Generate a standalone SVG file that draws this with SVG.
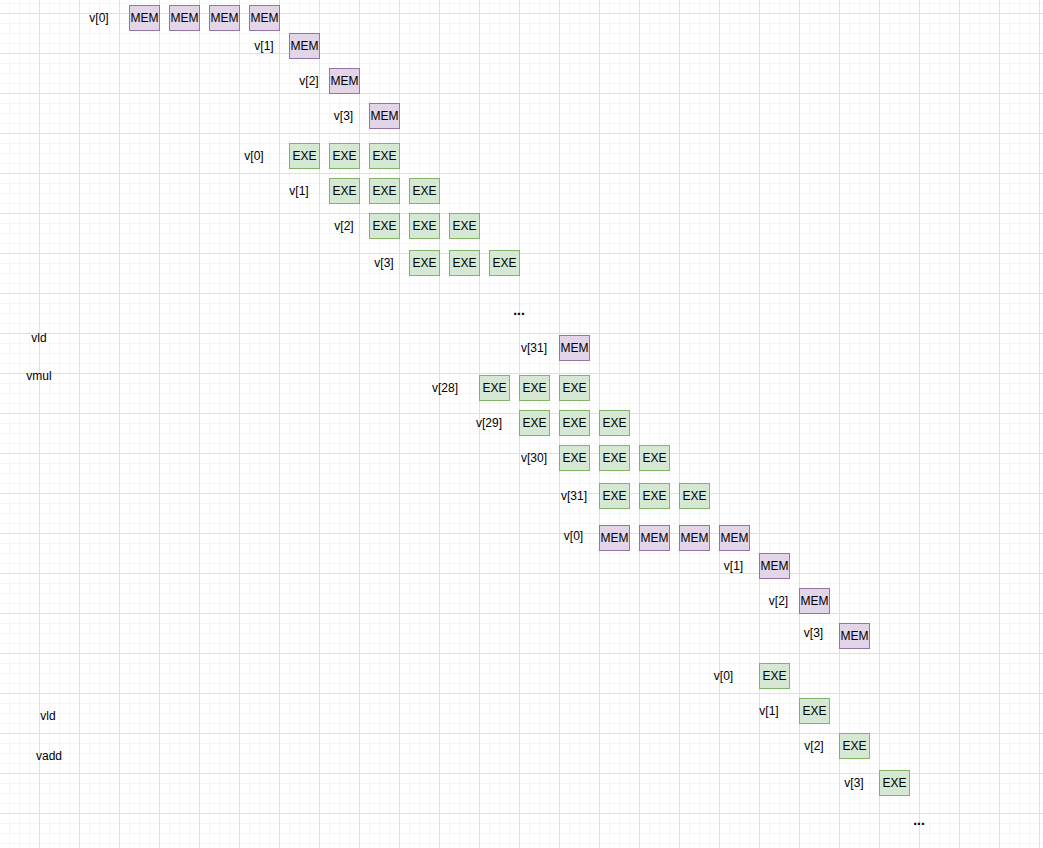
<svg xmlns="http://www.w3.org/2000/svg" width="1043" height="848" viewBox="0 0 1043 848">
<defs>
<pattern id="minor" patternUnits="userSpaceOnUse" x="9" y="3" width="10" height="10">
<rect x="0" y="0" width="1" height="10" fill="#f5f5f5"/>
<rect x="0" y="0" width="10" height="1" fill="#f5f5f5"/>
</pattern>
<pattern id="major" patternUnits="userSpaceOnUse" x="39" y="13" width="40" height="40">
<rect x="0" y="0" width="1" height="40" fill="#e0e0e0"/>
<rect x="0" y="0" width="40" height="1" fill="#e0e0e0"/>
</pattern>
<style>
.mem rect{fill:#e1d5e7;stroke:#9673a6;stroke-width:1}
.exe rect{fill:#d5e8d4;stroke:#82b366;stroke-width:1}
text{font-family:"Liberation Sans",Arial,sans-serif;font-size:12px;fill:#000}
.c{text-anchor:middle;dominant-baseline:central}
.dots{font-weight:bold;font-size:14px;text-anchor:middle}
</style>
</defs>
<rect width="1043" height="848" fill="#ffffff"/>
<rect width="1043" height="848" fill="url(#minor)"/>
<rect width="1043" height="848" fill="url(#major)"/>

<g id="labels">
<text class="c" x="39" y="338">vld</text>
<text class="c" x="39" y="376">vmul</text>
<text class="c" x="48" y="716">vld</text>
<text class="c" x="49" y="756">vadd</text>
<text class="dots" x="519" y="315">...</text>
<text class="dots" x="919" y="825">...</text>
</g>

<g id="row1"><text class="c" x="99" y="18">v[0]</text>
<g id="n1" class="mem"><rect x="129.5" y="5.5" width="30" height="25"/><text class="c" x="144.5" y="18">MEM</text></g>
<g id="n2" class="mem"><rect x="169.5" y="5.5" width="30" height="25"/><text class="c" x="184.5" y="18">MEM</text></g>
<g id="n3" class="mem"><rect x="209.5" y="5.5" width="30" height="25"/><text class="c" x="224.5" y="18">MEM</text></g>
<g id="n4" class="mem"><rect x="249.5" y="5.5" width="30" height="25"/><text class="c" x="264.5" y="18">MEM</text></g>
</g>
<g id="row2"><text class="c" x="264" y="46">v[1]</text>
<g id="n5" class="mem"><rect x="289.5" y="33.5" width="30" height="25"/><text class="c" x="304.5" y="46">MEM</text></g>
</g>
<g id="row3"><text class="c" x="309" y="81">v[2]</text>
<g id="n6" class="mem"><rect x="329.5" y="68.5" width="30" height="25"/><text class="c" x="344.5" y="81">MEM</text></g>
</g>
<g id="row4"><text class="c" x="343.5" y="116">v[3]</text>
<g id="n7" class="mem"><rect x="369.5" y="103.5" width="30" height="25"/><text class="c" x="384.5" y="116">MEM</text></g>
</g>

<g id="row5"><text class="c" x="254" y="156">v[0]</text>
<g id="n8" class="exe"><rect x="289.5" y="143.5" width="30" height="25"/><text class="c" x="304.5" y="156">EXE</text></g>
<g id="n9" class="exe"><rect x="329.5" y="143.5" width="30" height="25"/><text class="c" x="344.5" y="156">EXE</text></g>
<g id="n10" class="exe"><rect x="369.5" y="143.5" width="30" height="25"/><text class="c" x="384.5" y="156">EXE</text></g>
</g>
<g id="row6"><text class="c" x="299" y="191">v[1]</text>
<g id="n11" class="exe"><rect x="329.5" y="178.5" width="30" height="25"/><text class="c" x="344.5" y="191">EXE</text></g>
<g id="n12" class="exe"><rect x="369.5" y="178.5" width="30" height="25"/><text class="c" x="384.5" y="191">EXE</text></g>
<g id="n13" class="exe"><rect x="409.5" y="178.5" width="30" height="25"/><text class="c" x="424.5" y="191">EXE</text></g>
</g>
<g id="row7"><text class="c" x="344" y="226">v[2]</text>
<g id="n14" class="exe"><rect x="369.5" y="213.5" width="30" height="25"/><text class="c" x="384.5" y="226">EXE</text></g>
<g id="n15" class="exe"><rect x="409.5" y="213.5" width="30" height="25"/><text class="c" x="424.5" y="226">EXE</text></g>
<g id="n16" class="exe"><rect x="449.5" y="213.5" width="30" height="25"/><text class="c" x="464.5" y="226">EXE</text></g>
</g>
<g id="row8"><text class="c" x="384" y="263">v[3]</text>
<g id="n17" class="exe"><rect x="409.5" y="250.5" width="30" height="25"/><text class="c" x="424.5" y="263">EXE</text></g>
<g id="n18" class="exe"><rect x="449.5" y="250.5" width="30" height="25"/><text class="c" x="464.5" y="263">EXE</text></g>
<g id="n19" class="exe"><rect x="489.5" y="250.5" width="30" height="25"/><text class="c" x="504.5" y="263">EXE</text></g>
</g>

<g id="row9"><text class="c" x="534" y="348">v[31]</text>
<g id="n20" class="mem"><rect x="559.5" y="335.5" width="30" height="25"/><text class="c" x="574.5" y="348">MEM</text></g>
</g>
<g id="row10"><text class="c" x="445" y="388">v[28]</text>
<g id="n21" class="exe"><rect x="479.5" y="375.5" width="30" height="25"/><text class="c" x="494.5" y="388">EXE</text></g>
<g id="n22" class="exe"><rect x="519.5" y="375.5" width="30" height="25"/><text class="c" x="534.5" y="388">EXE</text></g>
<g id="n23" class="exe"><rect x="559.5" y="375.5" width="30" height="25"/><text class="c" x="574.5" y="388">EXE</text></g>
</g>
<g id="row11"><text class="c" x="489" y="423">v[29]</text>
<g id="n24" class="exe"><rect x="519.5" y="410.5" width="30" height="25"/><text class="c" x="534.5" y="423">EXE</text></g>
<g id="n25" class="exe"><rect x="559.5" y="410.5" width="30" height="25"/><text class="c" x="574.5" y="423">EXE</text></g>
<g id="n26" class="exe"><rect x="599.5" y="410.5" width="30" height="25"/><text class="c" x="614.5" y="423">EXE</text></g>
</g>
<g id="row12"><text class="c" x="534" y="458">v[30]</text>
<g id="n27" class="exe"><rect x="559.5" y="445.5" width="30" height="25"/><text class="c" x="574.5" y="458">EXE</text></g>
<g id="n28" class="exe"><rect x="599.5" y="445.5" width="30" height="25"/><text class="c" x="614.5" y="458">EXE</text></g>
<g id="n29" class="exe"><rect x="639.5" y="445.5" width="30" height="25"/><text class="c" x="654.5" y="458">EXE</text></g>
</g>
<g id="row13"><text class="c" x="574" y="496">v[31]</text>
<g id="n30" class="exe"><rect x="599.5" y="483.5" width="30" height="25"/><text class="c" x="614.5" y="496">EXE</text></g>
<g id="n31" class="exe"><rect x="639.5" y="483.5" width="30" height="25"/><text class="c" x="654.5" y="496">EXE</text></g>
<g id="n32" class="exe"><rect x="679.5" y="483.5" width="30" height="25"/><text class="c" x="694.5" y="496">EXE</text></g>
</g>

<g id="row14"><text class="c" x="573.5" y="536">v[0]</text>
<g id="n33" class="mem"><rect x="599.5" y="525.5" width="30" height="25"/><text class="c" x="614.5" y="538">MEM</text></g>
<g id="n34" class="mem"><rect x="639.5" y="525.5" width="30" height="25"/><text class="c" x="654.5" y="538">MEM</text></g>
<g id="n35" class="mem"><rect x="679.5" y="525.5" width="30" height="25"/><text class="c" x="694.5" y="538">MEM</text></g>
<g id="n36" class="mem"><rect x="719.5" y="525.5" width="30" height="25"/><text class="c" x="734.5" y="538">MEM</text></g>
</g>
<g id="row15"><text class="c" x="733.5" y="566">v[1]</text>
<g id="n37" class="mem"><rect x="759.5" y="553.5" width="30" height="25"/><text class="c" x="774.5" y="566">MEM</text></g>
</g>
<g id="row16"><text class="c" x="778.5" y="601">v[2]</text>
<g id="n38" class="mem"><rect x="799.5" y="588.5" width="30" height="25"/><text class="c" x="814.5" y="601">MEM</text></g>
</g>
<g id="row17"><text class="c" x="813.5" y="633">v[3]</text>
<g id="n39" class="mem"><rect x="839.5" y="623.5" width="30" height="25"/><text class="c" x="854.5" y="636">MEM</text></g>
</g>

<g id="row18"><text class="c" x="723.5" y="676">v[0]</text>
<g id="n40" class="exe"><rect x="759.5" y="663.5" width="30" height="25"/><text class="c" x="774.5" y="676">EXE</text></g>
</g>
<g id="row19"><text class="c" x="769" y="711">v[1]</text>
<g id="n41" class="exe"><rect x="799.5" y="698.5" width="30" height="25"/><text class="c" x="814.5" y="711">EXE</text></g>
</g>
<g id="row20"><text class="c" x="814" y="746">v[2]</text>
<g id="n42" class="exe"><rect x="839.5" y="733.5" width="30" height="25"/><text class="c" x="854.5" y="746">EXE</text></g>
</g>
<g id="row21"><text class="c" x="854" y="783">v[3]</text>
<g id="n43" class="exe"><rect x="879.5" y="770.5" width="30" height="25"/><text class="c" x="894.5" y="783">EXE</text></g>
</g>
</svg>
